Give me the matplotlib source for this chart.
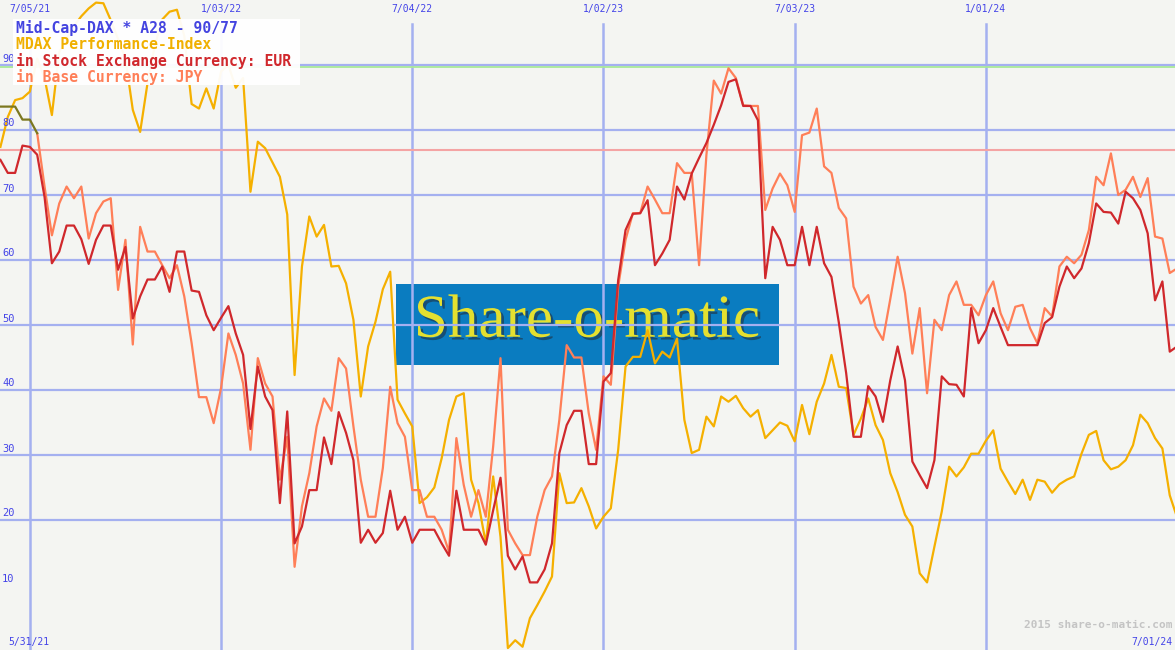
import numpy as np
import pandas as pd
import matplotlib
matplotlib.use("Agg")
import matplotlib.pyplot as plt
import matplotlib.dates as mdates
import matplotlib.patheffects as pe
from matplotlib.patches import Rectangle

# weekly values (Mondays), 6/07/21 .. 7/01/24
dates = pd.date_range("2021-06-07", periods=161, freq="7D")

mdax = [77.4, 82.0, 84.6, 84.9, 85.9, 91, 88, 82.3, 92, 94,
        96, 97.5, 98.7, 99.6, 99.5, 96.9, 94, 91, 83.1, 79.7,
        87.2, 93, 97, 98.2, 98.5, 94.5, 84, 83.3, 86.4, 83.3,
        89, 90, 86.5, 88, 70.5, 78.2, 77.2, 75, 72.8, 67,
        42.3, 59.0, 66.7, 63.6, 65.4, 59.0, 59.1, 56.4, 50.8, 39.0,
        46.7, 50.5, 55.5, 58.2, 38.5, 36.4, 34.4, 22.6, 23.5, 25.0,
        29.5, 35.4, 39.0, 39.5, 26.2, 22.6, 16.4, 26.7, 17.4, 0.3,
        1.5, 0.5, 4.9, 6.9, 9.0, 11.3, 27.2, 22.6, 22.7, 24.9,
        22.1, 18.7, 20.5, 21.8, 30.8, 43.6, 45.1, 45.1, 49.2, 44.1,
        45.9, 45.0, 47.9, 35.4, 30.3, 30.8, 35.9, 34.4, 39.0, 38.2,
        39.1, 37.2, 35.9, 36.9, 32.6, 33.8, 35.0, 34.5, 32.1, 37.7,
        33.2, 38.2, 41.0, 45.4, 40.5, 40.3, 33.1, 35.6, 38.7, 34.6,
        32.3, 27.2, 24.3, 20.8, 19.0, 11.8, 10.4, 15.9, 21.3, 28.2,
        26.7, 28.1, 30.2, 30.2, 32.2, 33.8, 27.9, 25.9, 24.0, 26.2,
        23.1, 26.2, 25.9, 24.2, 25.5, 26.2, 26.7, 30.2, 33.1, 33.7,
        29.2, 27.8, 28.2, 29.2, 31.5, 36.2, 34.9, 32.6, 31.0, 23.8,
        20.4]

eur = [75.4, 73.4, 73.4, 77.6, 77.4, 76.2, 69.7, 59.5, 61.3, 65.3,
       65.3, 63.2, 59.4, 63.1, 65.3, 65.3, 58.5, 62.0, 51.0, 54.4,
       57.0, 57.0, 59.0, 55.1, 61.3, 61.3, 55.3, 55.1, 51.5, 49.2,
       51.1, 52.9, 48.7, 45.4, 34.0, 43.6, 39.0, 36.9, 22.6, 36.7,
       16.4, 19.0, 24.6, 24.6, 32.7, 28.6, 36.6, 33.4, 29.2, 16.5,
       18.5, 16.5, 18.0, 24.5, 18.5, 20.5, 16.5, 18.5, 18.5, 18.5,
       16.4, 14.5, 24.5, 18.5, 18.5, 18.5, 16.2, 21.5, 26.5, 14.5,
       12.4, 14.4, 10.4, 10.4, 12.4, 16.4, 30.3, 34.6, 36.8, 36.8,
       28.6, 28.6, 41.3, 42.6, 56.9, 64.6, 67.1, 67.2, 69.2, 59.2,
       61.0, 63.1, 71.3, 69.3, 73.3, 75.7, 78.0, 80.8, 83.8, 87.4,
       87.8, 83.7, 83.7, 81.5, 57.2, 65.1, 63.1, 59.2, 59.2, 65.1,
       59.2, 65.1, 59.5, 57.4, 50.4, 42.6, 32.8, 32.8, 40.6, 39.0,
       35.1, 41.5, 46.7, 41.5, 29.0, 26.9, 24.9, 29.2, 42.1, 40.9,
       40.8, 39.0, 52.6, 47.2, 49.2, 52.6, 49.7, 46.9, 46.9, 46.9,
       46.9, 46.9, 50.3, 51.2, 55.9, 59.0, 57.2, 58.7, 62.6, 68.7,
       67.4, 67.3, 65.6, 70.5, 69.5, 67.7, 64.1, 53.8, 56.7, 45.9,
       46.7]

jpy = [83.6, 83.6, 83.6, 81.6, 81.6, 79.5, 71.3, 63.8, 68.7, 71.3,
       69.5, 71.3, 63.3, 67.2, 69.0, 69.5, 55.4, 63.1, 47.0, 65.1,
       61.3, 61.3, 59.2, 57.2, 59.2, 54.4, 47.2, 38.9, 38.9, 34.9,
       40.3, 48.7, 45.4, 41.0, 30.8, 44.9, 41.0, 39.0, 26.2, 32.8,
       12.8, 22.1, 27.2, 34.4, 38.7, 36.8, 44.9, 43.3, 34.4, 26.2,
       20.5, 20.5, 28.0, 40.5, 34.9, 32.8, 24.6, 24.6, 20.5, 20.5,
       18.5, 15.1, 32.6, 25.4, 20.5, 24.6, 20.5, 31.3, 44.9, 18.5,
       16.4, 14.6, 14.6, 20.5, 24.6, 26.7, 35.4, 46.9, 45.0, 45.0,
       36.4, 30.8, 42.1, 40.8, 55.9, 63.1, 67.2, 67.2, 71.3, 69.3,
       67.2, 67.2, 74.9, 73.4, 73.4, 59.2, 76.2, 87.6, 85.6, 89.5,
       88.0, 83.8, 83.7, 83.7, 67.7, 71.0, 73.3, 71.5, 67.4, 79.2,
       79.6, 83.3, 74.4, 73.4, 68.0, 66.4, 55.9, 53.3, 54.6, 49.7,
       47.7, 54.0, 60.5, 54.9, 45.6, 52.6, 39.5, 50.8, 49.2, 54.6,
       56.7, 53.1, 53.1, 51.5, 54.6, 56.7, 51.8, 49.2, 52.8, 53.1,
       49.5, 47.2, 52.6, 51.3, 59.0, 60.5, 59.5, 60.8, 64.6, 72.8,
       71.5, 76.4, 70.0, 70.8, 72.8, 69.7, 72.6, 63.6, 63.3, 58.0,
       58.7]

y_levels = [20, 30, 40, 50, 60, 70, 80, 90]
y_labels = [10, 20, 30, 40, 50, 60, 70, 80, 90]
grid_dates = ["2021-07-05", "2022-01-03", "2022-07-04", "2023-01-02", "2023-07-03", "2024-01-01"]
grid_texts = ["7/05/21", "1/03/22", "7/04/22", "1/02/23", "7/03/23", "1/01/24"]
high_mark = 90
low_mark = 77

W, H = 1175, 650
bg = "#f4f5f2"
grid_col = "#a4b0f0"
lab_col = "#4444e8"

fig = plt.figure(figsize=(W / 100, H / 100), dpi=100, facecolor=bg)
ax = fig.add_axes([0, 0, 1, 1])
ax.set_facecolor(bg)
ax.axis("off")

# x scale: ~1.05 px per day
x0 = mdates.date2num(dates[0]) - 0.4
ax.set_xlim(x0, x0 + 1118.4)
ax.set_ylim(0, 100)


def px(x, y):
    return x / W, 1 - y / H


# share-o-matic logo box
ax.add_patch(Rectangle(px(396, 365), 383 / W, 81 / H, transform=ax.transAxes,
                       facecolor="#0a7cc0", edgecolor="none", zorder=0.5))
ax.text(*px(587, 322), "Share-o-matic", transform=ax.transAxes, ha="center", va="center",
        family="Liberation Serif", fontsize=44, color="#e4e030", zorder=0.8,
        path_effects=[pe.SimplePatchShadow(offset=(2, -2), shadow_rgbFace="#203040", alpha=0.6),
                      pe.Normal()])

# grid
for v in y_levels:
    ax.axhline(v, color=grid_col, lw=1.6, zorder=1)
for d in grid_dates:
    ax.axvline(mdates.date2num(pd.Timestamp(d)), ymax=1 - 24 / H, color=grid_col, lw=1.8, zorder=1)
ax.axhline(high_mark - 0.28, color="#a8e898", lw=1.3, zorder=1.1)
ax.axhline(low_mark - 0.05, color="#f4a4a4", lw=1.5, zorder=1.1)

# data lines
ax.plot(dates, mdax, color="#f5b000", lw=1.6, zorder=3)
ax.plot(dates[5:], jpy[5:], color="#ff7f58", lw=1.6, zorder=3)
ax.plot(dates[:6], jpy[:6], color="#7c7820", lw=1.6, zorder=3)
ax.plot(dates, eur, color="#d0282c", lw=1.6, zorder=4)

# axis labels
mono = "DejaVu Sans Mono"
for v in y_labels:
    ax.text(2 / W, v / 100 + 1.5 / H, str(v), transform=ax.transAxes, ha="left", va="bottom",
            family=mono, fontsize=7.5, color=lab_col, zorder=6)
for d, t in zip(grid_dates, grid_texts):
    ax.text(mdates.date2num(pd.Timestamp(d)), 1 - 9 / H, t, transform=ax.get_xaxis_transform(),
            ha="center", va="center", family=mono, fontsize=7, color=lab_col, zorder=6)
ax.text(*px(8, 642), "5/31/21", transform=ax.transAxes, ha="left", va="center",
        family=mono, fontsize=7, color=lab_col, zorder=6)
ax.text(*px(1172, 642), "7/01/24", transform=ax.transAxes, ha="right", va="center",
        family=mono, fontsize=7, color=lab_col, zorder=6)
ax.text(*px(1172, 625), "2015 share-o-matic.com", transform=ax.transAxes, ha="right", va="center",
        family=mono, fontsize=8, fontweight="bold", color="#c4c4c4", zorder=6)

# legend box
ax.add_patch(Rectangle(px(13, 85), 287 / W, 66 / H, transform=ax.transAxes,
                       facecolor="white", edgecolor="none", alpha=0.95, zorder=7))
legend_lines = [("Mid-Cap-DAX * A28 - 90/77", "#4444e0"),
                ("MDAX Performance-Index", "#f0b000"),
                ("in Stock Exchange Currency: EUR", "#d0282c"),
                ("in Base Currency: JPY", "#ff7f58")]
for i, (t, c) in enumerate(legend_lines):
    ax.text(*px(16, 28 + i * 16.3), t, transform=ax.transAxes, ha="left", va="center",
            family=mono, fontsize=10.6, fontweight="bold", color=c, zorder=8)

fig.savefig("out.png", dpi=100, facecolor=bg)
